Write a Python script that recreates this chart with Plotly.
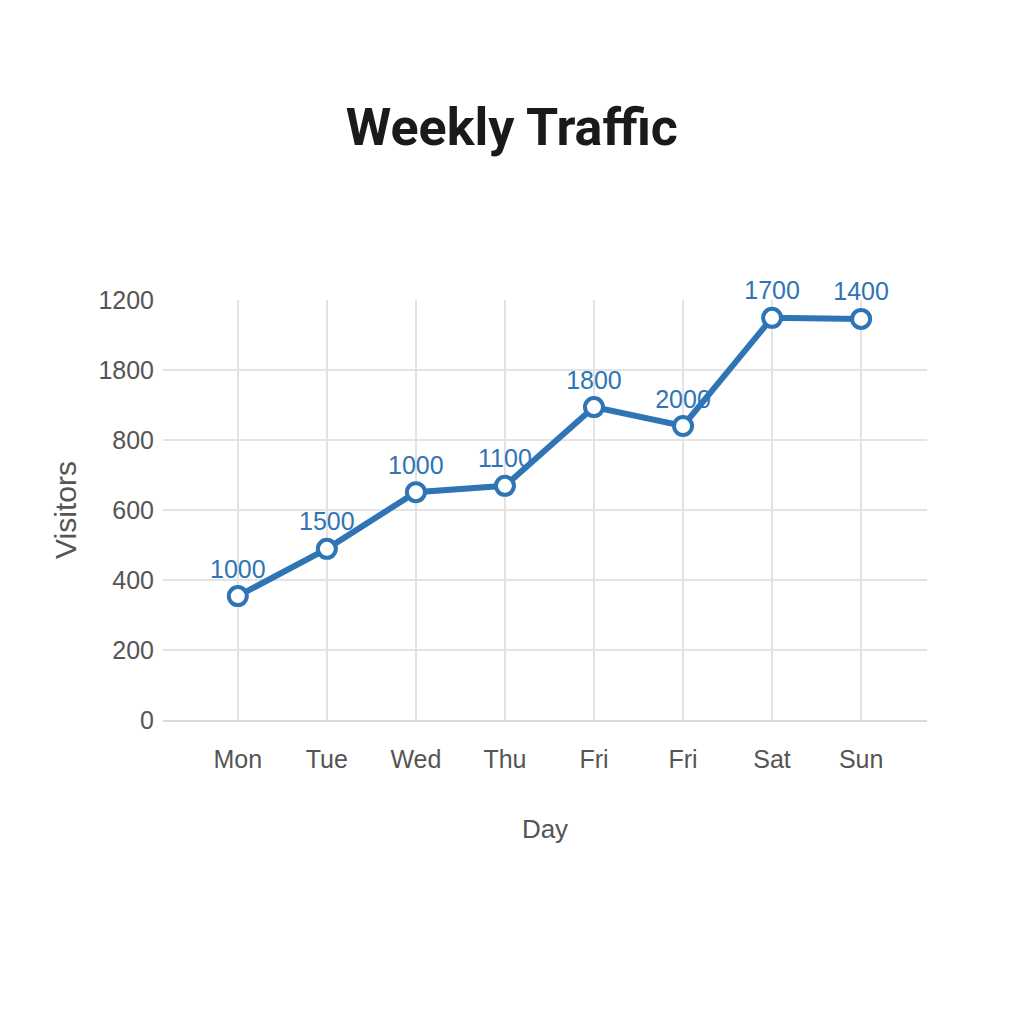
import plotly.graph_objects as go

# data
days = ["Mon", "Tue", "Wed", "Thu", "Fri", "Fri", "Sat", "Sun"]
visitors = [354, 489, 651, 669, 894, 840, 1149, 1146]
point_labels = ["1000", "1500", "1000", "1100", "1800", "2000", "1700", "1400"]
y_ticks = [0, 200, 400, 600, 800, 1000, 1200]
y_tick_labels = ["0", "200", "400", "600", "800", "1800", "1200"]

x_pos = list(range(len(days)))
blue = "#2f74b5"
grey = "#555555"
sans = "Liberation Sans, Arial, sans-serif"

fig = go.Figure()
fig.add_trace(go.Scatter(
    x=x_pos, y=visitors, mode="lines+markers+text",
    text=point_labels, textposition="top center",
    textfont=dict(size=25, color=blue, family=sans),
    line=dict(color=blue, width=6),
    marker=dict(size=18, color="white", line=dict(color=blue, width=4)),
    cliponaxis=False,
))

fig.update_layout(
    width=1024, height=1024,
    paper_bgcolor="white", plot_bgcolor="white",
    font=dict(family=sans, color=grey),
    title=dict(text="<b>Weekly Traffic</b>", x=0.492, xanchor="center",
               y=0.884, yanchor="middle",
               font=dict(size=52, color="#1a1a1a", family="Roboto, sans-serif")),
    margin=dict(l=155, r=105, t=292, b=312),
    showlegend=False,
)
fig.update_xaxes(
    range=[-0.84, 7.74], tickvals=x_pos, ticktext=days,
    tickfont=dict(size=25, color=grey), ticks="", ticklabelstandoff=16,
    showgrid=True, gridcolor="#e3e3e3", gridwidth=2, zeroline=False,
    showline=True, linecolor="#d9d9d9", linewidth=2,
    title=dict(text="Day", font=dict(size=26, color=grey), standoff=48),
)
fig.update_yaxes(
    range=[0, 1200], tickvals=y_ticks, ticktext=y_tick_labels,
    tickfont=dict(size=25, color=grey), ticklabelstandoff=8,
    showgrid=True, gridcolor="#e3e3e3", gridwidth=2, zeroline=False,
    title=dict(text="Visitors", font=dict(size=30, color=grey), standoff=12),
)

fig.write_html("out.html")
